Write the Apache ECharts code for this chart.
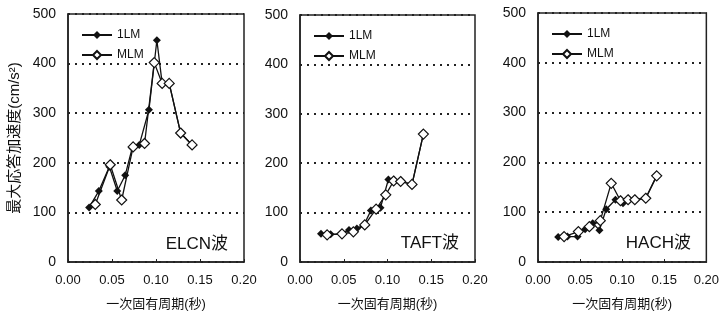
<!DOCTYPE html>
<html>
<head>
<meta charset="utf-8">
<style>
html, body { margin: 0; padding: 0; background: #fff; }
#main { width: 722px; height: 316px; }
</style>
<script src="https://cdn.jsdelivr.net/npm/echarts@6/dist/echarts.min.js"></script>
</head>
<body>
<div id="main"></div>
<script>
// 一次固有周期(秒)
const period1LM = [0.024, 0.035, 0.047, 0.056, 0.065, 0.073, 0.081, 0.092, 0.101, 0.107, 0.115, 0.128, 0.141]
const periodMLM = [0.031, 0.048, 0.061, 0.074, 0.087, 0.098, 0.107, 0.115, 0.128, 0.141]

// 最大応答加速度 (cm/s2)
const elcn1LM = [110, 143, 192, 143, 175, 230, 236, 307, 447, 360, 360, 260, 236]
const elcnMLM = [116, 196, 125, 232, 239, 402, 360, 360, 260, 236]
const taft1LM = [57, 56, 57, 65, 68, 75, 104, 110, 167, 164, 163, 157, 259]
const taftMLM = [55, 57, 61, 75, 107, 136, 164, 163, 157, 259]
const hach1LM = [50, 51, 51, 66, 78, 64, 106, 125, 118, 125, 125, 128, 173]
const hachMLM = [51, 61, 71, 83, 158, 123, 125, 125, 128, 173]

const waveNames = ['ELCN波', 'TAFT波', 'HACH波']
const yTicks = [0, 100, 200, 300, 400, 500]
const xTicks = [0, 0.05, 0.10, 0.15, 0.20]

const FONT = "'Liberation Sans', 'Noto Sans CJK JP', sans-serif"
const zip = (xs, ys) => xs.map((x, i) => [x, ys[i]])

const grids = [
  { left: 68, top: 14, width: 176, height: 249 },
  { left: 300, top: 15, width: 175, height: 247 },
  { left: 538, top: 13, width: 169, height: 249 }
]

const panels = [
  [elcn1LM, elcnMLM],
  [taft1LM, taftMLM],
  [hach1LM, hachMLM]
]

const xAxis = grids.map((g, i) => ({
  type: 'value',
  gridIndex: i,
  min: xTicks[0],
  max: xTicks[xTicks.length - 1],
  interval: 0.05,
  name: '一次固有周期(秒)',
  nameLocation: 'middle',
  nameGap: 36,
  nameTextStyle: { color: '#111', fontSize: 13, fontFamily: FONT },
  axisLine: { show: true, lineStyle: { color: '#222', width: 1.5 } },
  axisTick: { show: true, inside: true, length: 3, lineStyle: { color: '#222' } },
  splitLine: { show: false },
  axisLabel: {
    color: '#111', fontSize: 13, fontFamily: FONT, margin: 12,
    formatter: v => v.toFixed(2)
  }
}))

const yAxis = grids.map((g, i) => ({
  type: 'value',
  gridIndex: i,
  min: yTicks[0],
  max: yTicks[yTicks.length - 1],
  interval: 100,
  name: i === 0 ? '最大応答加速度(cm/s²)' : '',
  nameLocation: 'middle',
  nameRotate: 90,
  nameGap: 46,
  nameTextStyle: { color: '#111', fontSize: 15, fontFamily: FONT },
  axisLine: { show: true, lineStyle: { color: '#222', width: 1.5 } },
  axisTick: { show: false },
  splitLine: { show: true, lineStyle: { color: '#222', type: [2, 5], width: 2 } },
  axisLabel: { color: '#111', fontSize: 14, fontFamily: FONT, margin: 12 }
}))

const series = []
panels.forEach((p, i) => {
  series.push({
    name: '1LM',
    type: 'line',
    xAxisIndex: i,
    yAxisIndex: i,
    data: zip(period1LM, p[0]),
    symbol: 'diamond',
    symbolSize: 8,
    itemStyle: { color: '#111' },
    lineStyle: { color: '#111', width: 1.3 }
  })
  series.push({
    name: 'MLM',
    type: 'line',
    xAxisIndex: i,
    yAxisIndex: i,
    data: zip(periodMLM, p[1]),
    symbol: 'diamond',
    symbolSize: 10,
    itemStyle: { color: '#fff', borderColor: '#111', borderWidth: 1.2 },
    lineStyle: { color: '#111', width: 1.3 }
  })
})

const legend = grids.map(g => ({
  data: ['1LM', 'MLM'],
  orient: 'vertical',
  left: g.left + 8,
  top: g.top + 10,
  itemWidth: 30,
  itemHeight: 10,
  itemGap: 8,
  selectedMode: false,
  textStyle: { color: '#111', fontSize: 12, fontFamily: FONT }
}))

const graphic = grids.map((g, i) => ({
  type: 'text',
  right: 722 - (g.left + g.width) + 16,
  top: g.top + g.height - 27,
  style: { text: waveNames[i], fill: '#111', font: '17px ' + FONT }
}))

const myChart = echarts.init(document.getElementById('main'))
myChart.setOption({
  animation: false,
  backgroundColor: '#fff',
  grid: grids.map(g => Object.assign({ show: true, borderColor: '#222', borderWidth: 1.5, backgroundColor: 'transparent' }, g)),
  xAxis: xAxis,
  yAxis: yAxis,
  legend: legend,
  graphic: graphic,
  series: series
})
</script>
</body>
</html>
